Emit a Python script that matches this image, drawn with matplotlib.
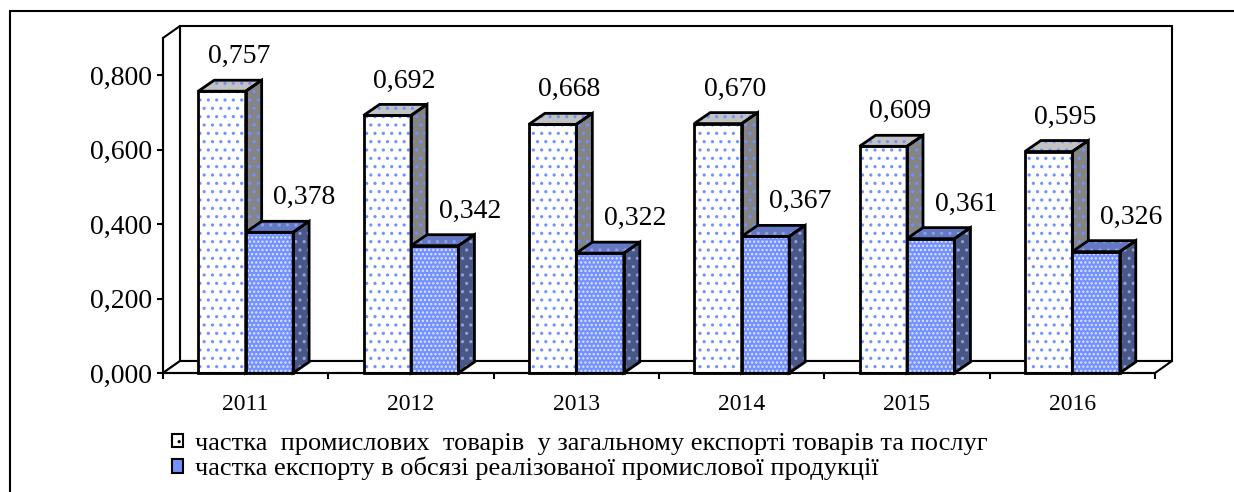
import matplotlib.pyplot as plt
from matplotlib.patches import Polygon, Rectangle, Patch
from matplotlib.ticker import FuncFormatter
import numpy as np

plt.rcParams['font.family'] = ['Liberation Serif', 'DejaVu Serif']
plt.rcParams['hatch.linewidth'] = 1.1

# дані
years = ['2011', '2012', '2013', '2014', '2015', '2016']
share_goods = [0.757, 0.692, 0.668, 0.670, 0.609, 0.595]
share_export = [0.378, 0.342, 0.322, 0.367, 0.361, 0.326]
legend_labels = ['частка  промислових  товарів  у загальному експорті товарів та послуг',
                 'частка експорту в обсязі реалізованої промислової продукції']

W, H = 1234, 492
fig = plt.figure(figsize=(W / 100, H / 100), dpi=100)
# положення осей у пікселях
x0, x1, y0, y1 = 163, 1155, 373, 38
ax = fig.add_axes([x0 / W, (H - y0) / H, (x1 - x0) / W, (y0 - y1) / H])
ymax = 0.9
ncat = len(years)
ax.set_xlim(0, ncat)
ax.set_ylim(0, ymax)

px_x = ncat / (x1 - x0)      # одиниць даних на піксель по x
px_y = ymax / (y0 - y1)      # по y

# стіни псевдо-3D
wdx, wdy = 17 * px_x, 12 * px_y
kw = dict(facecolor='white', edgecolor='black', lw=1.5, clip_on=False, zorder=0)
ax.add_patch(Rectangle((wdx, wdy), ncat, ymax, **kw))
ax.add_patch(Polygon([(0, 0), (wdx, wdy), (wdx, ymax + wdy), (0, ymax)], **kw))
ax.add_patch(Polygon([(0, 0), (ncat, 0), (ncat + wdx, wdy), (wdx, wdy)], **kw))

bw = 0.287
bdx, bdy = 16 * px_x, 11 * px_y
x = np.arange(ncat) + 0.5


def bars3d(xl, vals, front, top, side, dots, fdots, fhatch, zo):
    for xi, v in zip(xl, vals):
        faces = [
            (front, fdots, fhatch, [(xi, 0), (xi + bw, 0), (xi + bw, v), (xi, v)]),
            (top, dots, '..', [(xi, v), (xi + bw, v), (xi + bw + bdx, v + bdy), (xi + bdx, v + bdy)]),
            (side, dots, '..', [(xi + bw, 0), (xi + bw + bdx, bdy), (xi + bw + bdx, v + bdy), (xi + bw, v)]),
        ]
        for fc, dc, hp, pts in faces:
            ax.add_patch(Polygon(pts, facecolor=fc, edgecolor='none', zorder=zo, clip_on=False))
            ax.add_patch(Polygon(pts, facecolor='none', edgecolor=dc, hatch=hp, lw=0,
                                 zorder=zo + 0.1, clip_on=False))
            ax.add_patch(Polygon(pts, facecolor='none', edgecolor='black', lw=2,
                                 zorder=zo + 0.2, clip_on=False))


bars3d(x - bw, share_goods, 'white', '#c2c2c2', '#848484', '#6f92ff', '#6f92ff', '..', 2)
bars3d(x, share_export, '#7391ff', '#6478c4', '#485785', '#8fa2e0', '#dfe6ff', '....', 3)

fmt = lambda v: f'{v:.3f}'.replace('.', ',')
for xi, v in zip(x - bw / 2, share_goods):
    ax.annotate(fmt(v), (xi, v), xytext=(17 * 0.72, 28 * 0.72), textcoords='offset points',
                ha='center', va='baseline', fontsize=20, zorder=5)
for xi, v in zip(x + bw / 2, share_export):
    ax.annotate(fmt(v), (xi, v), xytext=(35 * 0.72, 28 * 0.72), textcoords='offset points',
                ha='center', va='baseline', fontsize=20, zorder=5)

# осі
for s in ['top', 'right']:
    ax.spines[s].set_visible(False)
ax.spines['left'].set_linewidth(1.5)
ax.spines['bottom'].set_linewidth(1.5)
ax.spines['left'].set_zorder(4)
ax.spines['bottom'].set_zorder(4)
ax.set_yticks(np.arange(0, 0.81, 0.2))
ax.yaxis.set_major_formatter(FuncFormatter(lambda v, p: fmt(v)))
ax.tick_params(axis='y', length=4, width=1.5, pad=4, labelsize=20)
ax.set_xticks(np.arange(ncat + 1))
ax.set_xticklabels([])
ax.set_xticks(x, minor=True)
ax.set_xticklabels(years, minor=True)
ax.tick_params(axis='x', which='major', length=4, width=1.5)
ax.tick_params(axis='x', which='minor', length=0, pad=15, labelsize=17)

handles = [Patch(facecolor='white', edgecolor='black', hatch='..', lw=1.5),
           Patch(facecolor='#7391ff', edgecolor='black', lw=1.5)]
fig.legend(handles, legend_labels, loc='upper left', bbox_to_anchor=(172 / W, 1 - 433 / H),
           frameon=False, fontsize=19, handlelength=0.42, handleheight=0.42,
           handletextpad=0.45, labelspacing=0.07, borderpad=0, borderaxespad=0)

# зовнішня рамка
fig.add_artist(Rectangle((10 / W, -0.1), 1.2, 1 - 11 / H + 0.1, transform=fig.transFigure,
                         facecolor='none', edgecolor='black', lw=1.5))

fig.savefig('out.png', dpi=100)
